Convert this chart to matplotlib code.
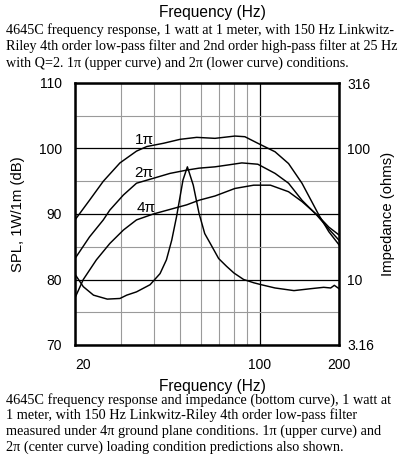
import matplotlib
matplotlib.use("Agg")
import matplotlib.pyplot as plt
from matplotlib.ticker import NullFormatter, NullLocator

# ---- data ----
freq_1pi = [20, 22.7, 25.6, 29.6, 34.2, 37.4, 43.3, 50, 57.8, 67.8, 80.7, 88, 98.5, 114.5, 128.8, 144.8, 162.5, 168, 183, 200]
spl_1pi = [89.1, 92.1, 95.0, 97.8, 99.6, 100.3, 100.8, 101.4, 101.7, 101.55, 101.9, 101.8, 100.8, 99.5, 97.7, 94.7, 90.9, 89.8, 87.3, 85.3]

freq_2pi = [20, 22.7, 25.6, 27.1, 30.5, 34.2, 39.6, 45.8, 53, 59, 67.8, 76.4, 85.7, 98.5, 114.5, 128.8, 144.8, 165, 183, 200]
spl_2pi = [83.2, 86.5, 89.1, 90.6, 92.9, 94.7, 95.45, 96.2, 96.7, 97.0, 97.2, 97.5, 97.8, 97.6, 96.2, 94.7, 92.1, 89.8, 87.7, 86.0]

freq_4pi = [20, 21.5, 24.1, 27.1, 30.5, 34.2, 39.6, 45.8, 53, 59, 67.8, 80.7, 95, 110, 128.8, 144.8, 166, 183, 200]
spl_4pi = [77.2, 80.0, 83.0, 85.5, 87.55, 89.1, 90.0, 90.7, 91.4, 92.1, 92.75, 93.9, 94.4, 94.4, 93.4, 91.9, 89.8, 88.0, 86.8]

freq_imp = [20, 21.5, 23.5, 26.5, 29.6, 31.4, 34.2, 38.5, 42, 44.4, 46.5, 48.5, 51.3, 53.3, 56.1, 59, 62, 65.5, 70, 75, 80, 87, 95, 101.5, 114.5, 135, 157, 175, 186, 192, 200]
imp_ohms = [10.96, 8.81, 7.59, 7.08, 7.16, 7.59, 8.04, 9.12, 11.09, 14.13, 19.95, 30.2, 57.5, 72.4, 52.5, 32.0, 22.4, 18.4, 14.45, 12.6, 11.2, 10.0, 9.44, 9.12, 8.61, 8.22, 8.51, 8.71, 8.61, 9.02, 8.51]

x_major = [20, 100, 200]
x_major_labels = ["20", "100", "200"]
x_minor = [30, 40, 50, 60, 70, 80, 90]
y_major = [70, 80, 90, 100, 110]
y_minor = [75, 85, 95, 105]
imp_ticks = [3.16, 10, 100, 316]
imp_labels = ["3.16", "10", "100", "316"]

labels = ["1\u03c0", "2\u03c0", "4\u03c0"]
label_pos = [(36.6, 101.3), (36.6, 96.3), (37.2, 90.9)]

top_title = "Frequency (Hz)"
top_caption = [
    "4645C frequency response, 1 watt at 1 meter, with 150 Hz Linkwitz-",
    "Riley 4th order low-pass filter and 2nd order high-pass filter at 25 Hz",
    "with Q=2. 1\u03c0 (upper curve) and 2\u03c0 (lower curve) conditions.",
]
bottom_caption = [
    "4645C frequency response and impedance (bottom curve), 1 watt at",
    "1 meter, with 150 Hz Linkwitz-Riley 4th order low-pass filter",
    "measured under 4\u03c0 ground plane conditions. 1\u03c0 (upper curve) and",
    "2\u03c0 (center curve) loading condition predictions also shown.",
]

W, H = 406, 463
fig = plt.figure(figsize=(W / 100, H / 100), dpi=100)
fig.patch.set_facecolor("white")

L, R, T, B = 75, 339, 83, 345
ax = fig.add_axes([L / W, 1 - B / H, (R - L) / W, (B - T) / H])
ax.set_xscale("log")
ax.set_xlim(20, 200)
ax.set_ylim(70, 110)

ax.set_xticks(x_major)
ax.set_xticklabels(x_major_labels)
ax.set_xticks(x_minor, minor=True)
ax.xaxis.set_minor_formatter(NullFormatter())
ax.set_yticks(y_major)
ax.set_yticks(y_minor, minor=True)

sans = "Liberation Sans"
serif = "Liberation Serif"

ax.tick_params(which="both", length=0)
ax.tick_params(axis="y", pad=9.5, labelsize=10, labelfontfamily=sans)
ax.tick_params(axis="x", pad=9.5, labelsize=10, labelfontfamily=sans)
ax.get_xticklabels()[0].set_horizontalalignment("left")

ax.grid(which="minor", color="#9a9a9a", linewidth=0.8)
ax.grid(which="major", color="black", linewidth=0.9)
ax.set_axisbelow(True)
for s in ax.spines.values():
    s.set_linewidth(1.8)
    s.set_zorder(5)

lw = 1.05
ax.plot(freq_1pi, spl_1pi, color="black", lw=lw, zorder=3)
ax.plot(freq_2pi, spl_2pi, color="black", lw=lw, zorder=3)
ax.plot(freq_4pi, spl_4pi, color="black", lw=lw, zorder=3)

for lab, (fx, fy) in zip(labels, label_pos):
    ax.text(fx, fy, lab, fontsize=11, family=[sans, serif], ha="center", va="center",
            zorder=4)

ax2 = ax.twinx()
ax2.set_yscale("log")
ax2.set_ylim(3.16, 316)
ax2.yaxis.set_minor_locator(NullLocator())
ax2.set_yticks(imp_ticks)
ax2.set_yticklabels(imp_labels)
ax2.tick_params(which="both", length=0)
ax2.tick_params(axis="y", pad=6, labelsize=10, labelfontfamily=sans)
for s in ax2.spines.values():
    s.set_visible(False)
ax2.plot(freq_imp, imp_ohms, color="black", lw=lw, zorder=3)

def px(x, y):
    return x / W, 1 - y / H

fig.text(*px(212, 12), top_title, fontsize=11.2, family=sans, ha="center", va="center")
fig.text(*px(212, 386), top_title, fontsize=11.2, family=sans, ha="center", va="center")
fig.text(*px(18, 214), "SPL, 1W/1m (dB)", fontsize=10.7, family=sans,
         rotation=90, ha="center", va="center")
fig.text(*px(388, 214), "Impedance (ohms)", fontsize=10.7, family=sans,
         rotation=90, ha="center", va="center")

for i, line in enumerate(top_caption):
    fig.text(*px(6, 30 + i * 16.6), line, fontsize=10.15, family=serif, ha="left", va="center")
for i, line in enumerate(bottom_caption):
    fig.text(*px(6, 400 + i * 15.6), line, fontsize=10.3, family=serif, ha="left", va="center")

fig.savefig("out.png", dpi=100, facecolor="white")
